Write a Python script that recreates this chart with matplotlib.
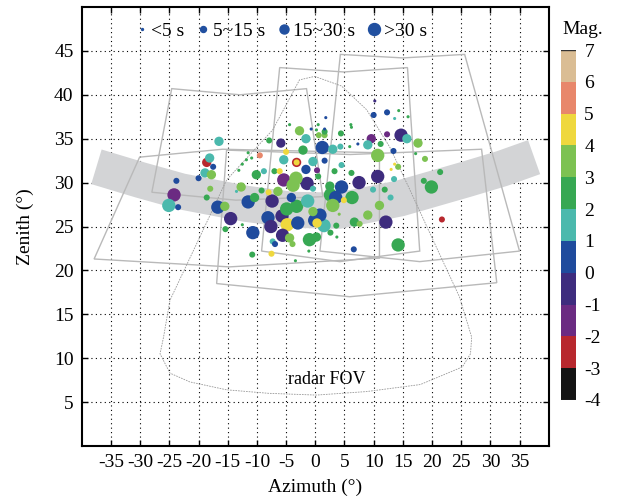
import matplotlib.pyplot as plt
import numpy as np
from matplotlib.colors import ListedColormap, BoundaryNorm
from matplotlib.lines import Line2D

plt.rcParams['font.family'] = ['Liberation Serif', 'DejaVu Serif']
plt.rcParams['axes.unicode_minus'] = False

# meteor detections: azimuth, zenith, magnitude, duration class (0:<5s 1:5-15s 2:15-30s 3:>30s)
az = [-16.5, -7.9, -5.9, -2.7, -4.4, -1.6, 1.2, 1.6, 9.6, 9.0, 10.7, -9.5, -5.0, -5.4, -3.2, -3.2,
      -2.1, -0.4, -1.6, 1.6, 4.5, 3.3, 6.2, 0.3, 10.7, 9.9, 7.5, 4.5, -1.4, -5.4, -3.8, -6.4,
      -12.7, -10.1, -8.8, -7.0, -18.9, -17.8, -18.6, -18.1, -17.5, -23.8, -20.0, -24.2, -25.1, -23.5,
      -18.0, -18.6, -13.5, -16.7, -15.5, -14.5, -11.5, -9.2, -8.0, -7.4, -4.1, -8.1, -7.6, -5.7,
      -4.8, -3.0, -5.6, -4.4, -10.7, -15.4, -12.5, -7.3, -6.9, -7.5, -10.8, -3.9, -1.0, 0.2,
      -0.1, 1.5, 0.3, 0.8, -3.2, -4.9, -1.3, -0.4, 2.6, 3.5, 6.3, 3.0, 4.9, 6.7, 9.0, 3.6,
      6.6, 2.6, 3.7, -1.1, -3.4, -11.5, -11.8, -10.9, -13.1, -12.5, -6.1, -10.4, 0.2, 1.6, 0.5,
      10.2, 10.0, 12.3, 13.6, 14.3, 15.9, 6.2, 1.8, -0.7, 0.6, 1.6, 4.4, 6.1, 5.9, 7.3, 3.0,
      4.3, 12.3, 14.7, 15.7, 13.4, 11.2, 17.6, 17.2, 18.8, 13.6, 14.2, 13.0, 21.4, 13.5, 19.9,
      18.6, 11.9, 12.9, 11.0, 12.1, 4.1, 14.2, 21.7, 7.6, -3.3, 2.5, 0.5, -0.4]
zen = [34.7, 34.8, 34.5, 35.9, 36.6, 35.0, 34.0, 35.4, 35.0, 34.3, 33.1, 33.1, 33.5, 32.6, 32.3, 32.3,
       33.7, 32.4, 31.5, 32.5, 32.0, 31.3, 31.1, 31.4, 30.7, 29.2, 30.0, 29.5, 29.9, 30.3, 29.7, 29.0,
       29.5, 30.9, 31.3, 31.3, 31.1, 30.9, 32.3, 32.8, 31.8, 30.2, 30.5, 28.6, 27.4, 27.2,
       29.3, 28.3, 29.0, 27.2, 27.3, 25.9, 27.8, 29.1, 28.9, 27.9, 28.3, 26.0, 25.0, 26.2,
       25.2, 25.4, 24.0, 23.7, 24.3, 24.7, 25.2, 23.3, 23.0, 21.9, 21.8, 23.0, 23.5, 23.8,
       25.7, 25.1, 25.4, 26.3, 27.3, 27.0, 27.9, 26.7, 28.6, 28.3, 28.3, 27.4, 28.0, 25.5, 26.3, 25.1,
       22.4, 24.3, 23.8, 22.2, 21.1, 33.4, 32.6, 32.8, 31.4, 32.1, 31.3, 28.3, 36.0, 36.1, 36.6,
       39.3, 37.7, 38.0, 37.3, 38.2, 37.5, 36.3, 37.4, 36.1, 35.4, 35.8, 35.6, 36.6, 34.1, 34.4, 33.8,
       34.1, 35.5, 35.4, 35.0, 33.6, 34.4, 34.5, 33.3, 32.7, 32.1, 31.8, 31.5, 31.2, 30.4, 29.5,
       30.2, 29.2, 28.3, 27.4, 25.5, 26.4, 22.9, 25.8, 25.3, 30.5, 29.6, 30.7, 29.3]
mag = [1.5, 2.5, -0.5, 3.5, 2.5, 1.5, 0.5, 3.5, -1.5, 1.5, 3.5, 5.5, 4.5, 1.5, -2.5, 4.5,
       2.5, 1.5, 0.5, 0.5, 1.5, 2.5, 2.5, -1.5, -0.5, 1.5, -0.5, 0.5, -0.5, -1.5, 3.5, 3.5,
       3.5, 2.5, 1.5, 2.5, 1.5, 3.5, -2.5, 1.5, 0.5, 0.5, 0.5, -1.5, 1.5, 0.5,
       3.5, 2.5, 1.5, 0.5, 3.5, -0.5, 0.5, 2.5, 4.5, -0.5, 0.5, 0.5, -0.5, -0.5,
       4.5, 0.5, -0.5, 3.5, 0.5, 2.5, 2.5, 1.5, 0.5, 4.5, 2.5, 3.5, 2.5, 2.5,
       0.5, 1.5, 4.5, 0.5, 2.5, 2.5, 1.5, 3.5, 2.5, 0.5, 2.5, 3.5, 4.5, 2.5, 3.5, 2.5,
       0.5, 2.5, 2.5, 2.5, 2.5, 2.5, 2.5, 2.5, 2.5, 2.5, 4.5, 2.5, 2.5, 0.5, 2.5,
       -0.5, 0.5, 0.5, 1.5, 2.5, 2.5, 2.5, 0.5, 0.5, 3.5, 2.5, 2.5, 2.5, 2.5, 0.5, 1.5,
       1.5, -1.5, -0.5, 1.5, 0.5, 2.5, 3.5, 2.5, 3.5, 4.5, 3.5, 4.5, 2.5, 1.5, 2.5,
       2.5, 2.5, 1.5, 3.5, -0.5, 3.5, 2.5, -2.5, 3.5, 3.5, 2.5, 2.5, 1.5]
dur = [2, 1, 2, 2, 0, 2, 3, 1, 2, 2, 3, 1, 1, 2, 2, 1,
       2, 2, 2, 1, 1, 1, 1, 1, 3, 1, 3, 3, 3, 3, 3, 2,
       2, 2, 1, 1, 2, 2, 2, 2, 1, 1, 1, 3, 3, 1,
       1, 1, 0, 3, 2, 3, 3, 1, 1, 3, 2, 3, 3, 3,
       3, 3, 3, 2, 3, 1, 0, 1, 1, 1, 1, 1, 3, 2,
       3, 3, 2, 3, 3, 3, 3, 2, 3, 3, 3, 3, 1, 2, 2, 1,
       1, 1, 0, 0, 0, 0, 0, 0, 0, 0, 1, 2, 0, 0, 0,
       0, 1, 1, 0, 0, 0, 0, 0, 0, 1, 1, 1, 0, 0, 0, 2,
       1, 1, 3, 2, 1, 1, 2, 0, 1, 0, 1, 0, 1, 1, 3,
       1, 1, 1, 2, 3, 0, 3, 1, 1, 3, 2, 1, 1]

dur_labels = ['<5 s', '5~15 s', '15~30 s', '>30 s']
dot_size = [5, 19, 45, 92]

# magnitude colour scale
mag_bounds = [-4, -3, -2, -1, 0, 1, 2, 3, 4, 5, 6, 7]
mag_colors = ['#141414', '#b8282e', '#6b2b82', '#3e2c7e', '#1f4b9d', '#4bb9ad',
              '#37a853', '#7dc252', '#efd83e', '#e8876b', '#dabd94']

# centre line of the gray band
band_az = [-37.5, -30.0, -23.0, -12.0, -4.0, 4.0, 14.5, 26.0, 32.0, 37.5]
band_zen = [31.8, 30.3, 29.0, 27.6, 26.9, 26.8, 28.2, 30.4, 31.6, 32.9]

# camera fields of view
cam_fovs = [
    ([-24.6, -12.9, -1.5, 1.3, -13.6, -28.0], [40.7, 40.0, 40.7, 28.4, 28.0, 28.9]),
    ([-6.1, 4.9, 15.8, 17.9, 4.2, -9.2], [43.1, 42.6, 43.1, 22.2, 21.0, 22.2]),
    ([4.3, 15.0, 25.6, 35.0, 17.9, 0.8], [44.6, 44.2, 44.6, 22.2, 21.0, 22.2]),
    ([-30.1, -15.9, 11.0, 11.0, -14.7, -37.9], [32.9, 33.8, 33.4, 21.4, 20.4, 21.3]),
    ([-15.2, 6.0, 28.5, 31.1, 5.9, -16.9], [33.7, 33.2, 33.8, 18.6, 17.0, 18.5]),
]

# radar field of view outline
radar_az = [-0.1, 4.5, 8.8, 12.8, 16.2, 20.5, 24.7, 26.8, 26.6, 25.2, 18.0, 8.8, 0.2,
            -8.0, -15.2, -21.5, -24.9, -26.6, -26.0, -24.9, -20.0, -15.2, -7.3, -2.7, -0.1]
radar_zen = [42.1, 41.0, 38.3, 34.0, 29.2, 23.0, 17.0, 12.4, 10.5, 9.0, 7.0, 6.2, 5.8,
             6.0, 6.4, 7.3, 8.3, 10.5, 12.4, 16.6, 23.5, 30.3, 36.0, 41.7, 42.1]

fig = plt.figure(figsize=(6.2, 5.0), dpi=100)
ax = fig.add_axes([0.132, 0.108, 0.753, 0.878])

ax.plot(band_az, band_zen, color='#d3d4d6', lw=26, solid_capstyle='butt',
        solid_joinstyle='round', zorder=1)

for caz, czen in cam_fovs:
    ax.fill(caz, czen, fill=False, edgecolor='#b9b9b9', lw=1.0, zorder=2)

ax.plot(radar_az, radar_zen, color='#999999', lw=0.6, ls=(0, (2, 1.2)), zorder=2)
ax.text(2.0, 7.6, 'radar FOV', fontsize=13, ha='center', va='center')

cmap = ListedColormap(mag_colors)
norm = BoundaryNorm(mag_bounds, cmap.N)

az = np.array(az)
zen = np.array(zen)
mag = np.array(mag)
dur = np.array(dur)
order = np.argsort(-dur, kind='stable')
sizes = np.array(dot_size)[dur[order]]
sc = ax.scatter(az[order], zen[order], c=mag[order], s=sizes, cmap=cmap, norm=norm,
                edgecolors='none', zorder=3)

ax.set_xlim(-40, 40)
ax.set_ylim(0, 50)
ax.set_xticks(range(-35, 40, 5))
ax.set_yticks(range(5, 50, 5))
ax.grid(True, color='black', lw=0.8, ls=(0, (1, 3)))
ax.set_axisbelow(True)
ax.tick_params(direction='in', length=4, width=1, labelsize=14, top=True, right=True, pad=6)
for sp in ax.spines.values():
    sp.set_linewidth(1.5)
ax.set_xlabel('Azimuth (°)', fontsize=14, labelpad=5)
ax.set_ylabel('Zenith (°)', fontsize=14, labelpad=14)

# duration legend
leg_ms = [1.4, 4.3, 6.5, 8.6]
handles = [Line2D([], [], ls='none', marker='o', color='#2150a0', markersize=m) for m in leg_ms]
ax.legend(handles, dur_labels, loc='upper center', bbox_to_anchor=(0.425, 1.0), ncol=4,
          frameon=False, fontsize=14, handletextpad=0.1, columnspacing=0.55,
          handlelength=0.8, borderaxespad=0.4)

cax = fig.add_axes([0.905, 0.2, 0.024, 0.7])
cb = fig.colorbar(sc, cax=cax, ticks=range(-4, 8))
cb.outline.set_visible(False)
cax.tick_params(length=0, labelsize=14, pad=6)
cax.axhline(7, color='#333333', lw=1)
cax.axhline(-4, color='#333333', lw=1)
cax.text(1.45, 1.035, 'Mag.', transform=cax.transAxes, fontsize=14, ha='center', va='bottom')

fig.savefig('out.png', dpi=100)
